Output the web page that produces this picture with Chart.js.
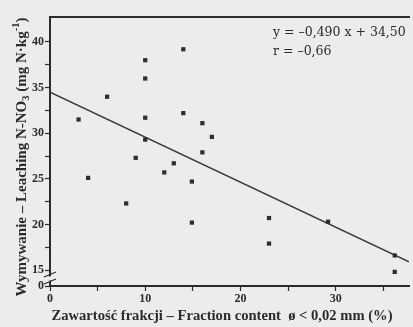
<!DOCTYPE html>
<html><head><meta charset="utf-8">
<script src="https://cdn.jsdelivr.net/npm/chart.js@4/dist/chart.umd.min.js"></script>
<style>html,body{margin:0;padding:0;background:#ececea;overflow:hidden}</style>
</head><body>
<canvas id="c" width="413" height="327"></canvas>
<script>
// ---- data ----
const fractionContent = [3.0, 6.0, 10.0, 10.0, 10.0, 10.0, 14.0, 14.0, 16.0, 17.0, 16.0, 13.0, 9.0, 4.0, 8.0, 12.0, 14.9, 14.9, 23.0, 23.0, 29.2, 36.2, 36.2];
const leachingNO3    = [31.5, 34.0, 38.0, 36.0, 31.7, 29.3, 39.2, 32.2, 31.1, 29.6, 27.9, 26.7, 27.3, 25.1, 22.3, 25.7, 24.7, 20.2, 20.7, 17.9, 20.3, 16.6, 14.8];
const trendX = [0, 37.7];
const trendY = [34.5, 15.9];
const xTickValues = [0, 5, 10, 15, 20, 25, 30, 35];
const xTickLabels = ['0', '', '10', '', '20', '', '30', ''];
const yTickValues = [13.25, 15, 17.5, 20, 22.5, 25, 27.5, 30, 32.5, 35, 37.5, 40];
const yTickLabels = ['0', '15', '', '20', '', '25', '', '30', '', '35', '', '40'];
const equationLines = ['y = \u20130,490 x + 34,50', 'r = \u20130,66'];
const xTitle = 'Zawarto\u015b\u0107 frakcji \u2013 Fraction content  \u00f8 < 0,02 mm (%)';
const yTitleParts = [['Wymywanie \u2013 Leaching N-NO', 0], ['3', 1], [' (mg N\u00b7kg', 0], ['-1', -1], [')', 0]];

const INK = '#2b2b2b';
const BG = '#ececea';
const SERIF = '"Liberation Serif", "Times New Roman", serif';

function richWidth(ctx, parts, size) {
  let w = 0;
  for (const [t, k] of parts) {
    ctx.font = 'bold ' + (k ? size * 0.7 : size) + 'px ' + SERIF;
    w += ctx.measureText(t).width;
  }
  return w;
}
function drawRich(ctx, parts, size, cx, cy) {
  const w = richWidth(ctx, parts, size);
  let x = cx - w / 2;
  ctx.textBaseline = 'middle';
  ctx.textAlign = 'left';
  for (const [t, k] of parts) {
    const s = k ? size * 0.7 : size;
    ctx.font = 'bold ' + s + 'px ' + SERIF;
    const dy = k === 1 ? size * 0.3 : (k === -1 ? -size * 0.35 : 0);
    ctx.fillText(t, x, cy + dy);
    x += ctx.measureText(t).width;
  }
}

const decor = {
  id: 'decor',
  beforeDraw(chart) {
    const ctx = chart.ctx;
    ctx.save();
    ctx.fillStyle = BG;
    ctx.fillRect(0, 0, chart.width, chart.height);
    ctx.restore();
  },
  afterDraw(chart) {
    const ctx = chart.ctx;
    const a = chart.chartArea;
    const ys = chart.scales.y;
    ctx.save();
    ctx.fillStyle = INK;
    // equation text
    ctx.font = '12.5px "DejaVu Serif", serif';
    ctx.textAlign = 'left';
    ctx.textBaseline = 'middle';
    ctx.fillText(equationLines[0], 273, 33);
    ctx.fillText(equationLines[1], 273, 52);
    // x title
    ctx.font = 'bold 14.6px ' + SERIF;
    ctx.textAlign = 'center';
    ctx.fillText(xTitle, 222, 316);
    // y title
    ctx.translate(22, 157);
    ctx.rotate(-Math.PI / 2);
    drawRich(ctx, yTitleParts, 15, 0, 0);
    ctx.restore();
    // axis break mark
    const y15 = ys.getPixelForValue(15);
    const y0 = ys.getPixelForValue(ys.min);
    const yc = (y15 + y0) / 2;
    const x = a.left;
    ctx.save();
    ctx.fillStyle = BG;
    ctx.beginPath();
    ctx.moveTo(x - 6, yc + 1); ctx.lineTo(x + 6, yc - 4); ctx.lineTo(x + 6, yc + 0); ctx.lineTo(x - 6, yc + 5); ctx.closePath();
    ctx.fill();
    ctx.strokeStyle = INK;
    ctx.lineWidth = 1.3;
    ctx.beginPath();
    ctx.moveTo(x - 6, yc - 1); ctx.lineTo(x + 6, yc - 6);
    ctx.moveTo(x - 6, yc + 6); ctx.lineTo(x + 6, yc + 1);
    ctx.stroke();
    ctx.restore();
  }
};

const tickFont = { family: SERIF, size: 12, weight: 'bold' };

new Chart(document.getElementById('c').getContext('2d'), {
  type: 'scatter',
  data: {
    datasets: [
      {
        type: 'line',
        data: trendX.map((x, i) => ({ x, y: trendY[i] })),
        borderColor: '#3a3a3a', borderWidth: 1.6, pointRadius: 0, fill: false, order: 2
      },
      {
        data: fractionContent.map((x, i) => ({ x, y: leachingNO3[i] })),
        pointStyle: 'rect', pointRadius: 3, backgroundColor: '#2e2e2e', borderWidth: 0, order: 1
      }
    ]
  },
  options: {
    responsive: false, animation: false,
    layout: { padding: { top: 17, left: 0, right: 0, bottom: 0 } },
    plugins: { legend: { display: false }, tooltip: { enabled: false } },
    scales: {
      x: {
        type: 'linear', position: 'bottom', min: 0, max: 37.7,
        afterBuildTicks: s => { s.ticks = xTickValues.map(v => ({ value: v })); },
        afterFit: s => { s.height = 41; },
        ticks: { autoSkip: false, maxRotation: 0, padding: 1, color: INK, font: tickFont,
                 callback: (v, i) => xTickLabels[xTickValues.indexOf(v)] ?? '' },
        grid: { drawOnChartArea: false, tickLength: 5, color: INK, tickWidth: 1.2 },
        border: { color: INK, width: 2 }
      },
      xTop: {
        type: 'linear', axis: 'x', position: 'top', min: 0, max: 37.7,
        afterFit: s => { s.height = 0; },
        ticks: { display: false }, grid: { display: false },
        border: { color: INK, width: 2 }
      },
      y: {
        type: 'linear', position: 'left', min: 13.25, max: 42.74,
        afterBuildTicks: s => { s.ticks = yTickValues.map(v => ({ value: v })); },
        afterFit: s => { s.width = 50; },
        ticks: { autoSkip: false, padding: 1, color: INK, font: tickFont,
                 callback: (v) => yTickLabels[yTickValues.indexOf(v)] ?? '' },
        grid: { drawOnChartArea: false, tickLength: 5, color: INK, tickWidth: 1.2 },
        border: { color: INK, width: 2 }
      }
    }
  },
  plugins: [decor]
});
</script>
</body></html>
